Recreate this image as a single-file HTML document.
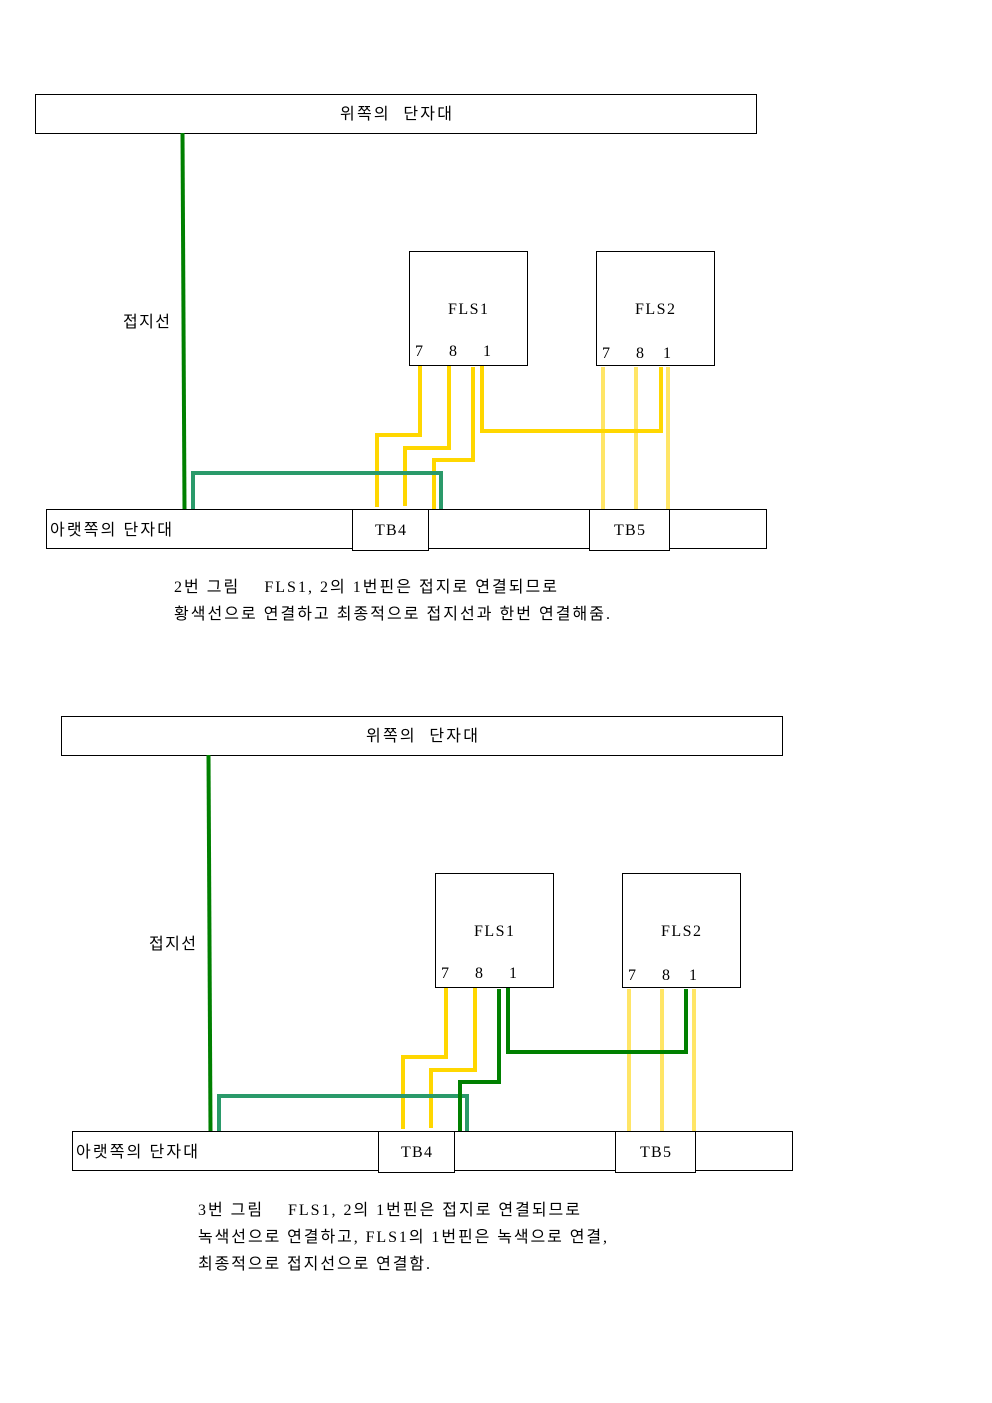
<!DOCTYPE html>
<html><head><meta charset="utf-8"><style>
html,body{margin:0;padding:0;background:#fff;}
svg{display:block;}
text{font-family:"Liberation Serif","Noto Sans CJK KR",serif;font-size:16px;fill:#000;}
</style></head><body>
<svg width="992" height="1403" viewBox="0 0 992 1403" xmlns="http://www.w3.org/2000/svg">
<defs>
<g id="base" fill="none">
  <rect x="35.5" y="94.5" width="721" height="39" stroke="#000" stroke-width="1"/>
  <text x="340" y="119" textLength="112" lengthAdjust="spacing" xml:space="preserve">위쪽의  단자대</text>
  <line x1="182.5" y1="133" x2="184.5" y2="509" stroke="#008000" stroke-width="4"/>
  <text x="123" y="327" textLength="47" lengthAdjust="spacing">접지선</text>
  <rect x="409.5" y="251.5" width="118" height="114" stroke="#000" fill="#fff"/>
  <rect x="596.5" y="251.5" width="118" height="114" stroke="#000" fill="#fff"/>
  <text x="448" y="314" textLength="40" lengthAdjust="spacing">FLS1</text>
  <text x="635" y="314" textLength="40" lengthAdjust="spacing">FLS2</text>
  <text x="419" y="356" text-anchor="middle">7</text>
  <text x="453" y="356" text-anchor="middle">8</text>
  <text x="487" y="356" text-anchor="middle">1</text>
  <text x="606" y="358" text-anchor="middle">7</text>
  <text x="640" y="358" text-anchor="middle">8</text>
  <text x="667" y="358" text-anchor="middle">1</text>
  <polyline points="420,366 420,435 377,435 377,507" stroke="#ffd700" stroke-width="4"/>
  <polyline points="449,366 449,448 405,448 405,506" stroke="#ffd700" stroke-width="4"/>
  <line x1="603" y1="367" x2="603" y2="509" stroke="#ffe566" stroke-width="4"/>
  <line x1="636" y1="367" x2="636" y2="509" stroke="#ffe566" stroke-width="4"/>
  <line x1="668" y1="367" x2="668" y2="509" stroke="#ffe566" stroke-width="4"/>
  <rect x="46.5" y="509.5" width="720" height="39" stroke="#000" fill="#fff"/>
  <rect x="352.5" y="509.5" width="76" height="41" stroke="#000" fill="#fff"/>
  <rect x="589.5" y="509.5" width="80" height="41" stroke="#000" fill="#fff"/>
  <text x="375" y="535" textLength="31" lengthAdjust="spacing">TB4</text>
  <text x="614" y="535" textLength="31" lengthAdjust="spacing">TB5</text>
  <text x="50" y="535" textLength="122" lengthAdjust="spacing">아랫쪽의 단자대</text>
</g>
</defs>
<use href="#base"/>
<g fill="none" stroke-width="4">
  <polyline points="473,367 473,460 434,460 434,509" stroke="#ffd700"/>
  <polyline points="482,366 482,431 661,431 661,367" stroke="#ffd700"/>
  <polyline points="193,509 193,473 441,473 441,509" stroke="#2a9a6a"/>
</g>
<text x="174" y="592" textLength="383" lengthAdjust="spacing" xml:space="preserve">2번 그림    FLS1, 2의 1번핀은 접지로 연결되므로</text>
<text x="174" y="619" textLength="436" lengthAdjust="spacing">황색선으로 연결하고 최종적으로 접지선과 한번 연결해줌.</text>
<use href="#base" transform="translate(26,622)"/>
<g fill="none" stroke-width="4" transform="translate(26,622)">
  <polyline points="193,509 193,474 441,474 441,509" stroke="#2a9a6a"/>
  <polyline points="473,367 473,460 434,460 434,509" stroke="#008000"/>
  <polyline points="482,366 482,430 660,430 660,367" stroke="#008000"/>
</g>
<text x="198" y="1215" textLength="382" lengthAdjust="spacing" xml:space="preserve">3번 그림    FLS1, 2의 1번핀은 접지로 연결되므로</text>
<text x="198" y="1242" textLength="409" lengthAdjust="spacing">녹색선으로 연결하고, FLS1의 1번핀은 녹색으로 연결,</text>
<text x="198" y="1269" textLength="232" lengthAdjust="spacing">최종적으로 접지선으로 연결함.</text>
</svg>
</body></html>
